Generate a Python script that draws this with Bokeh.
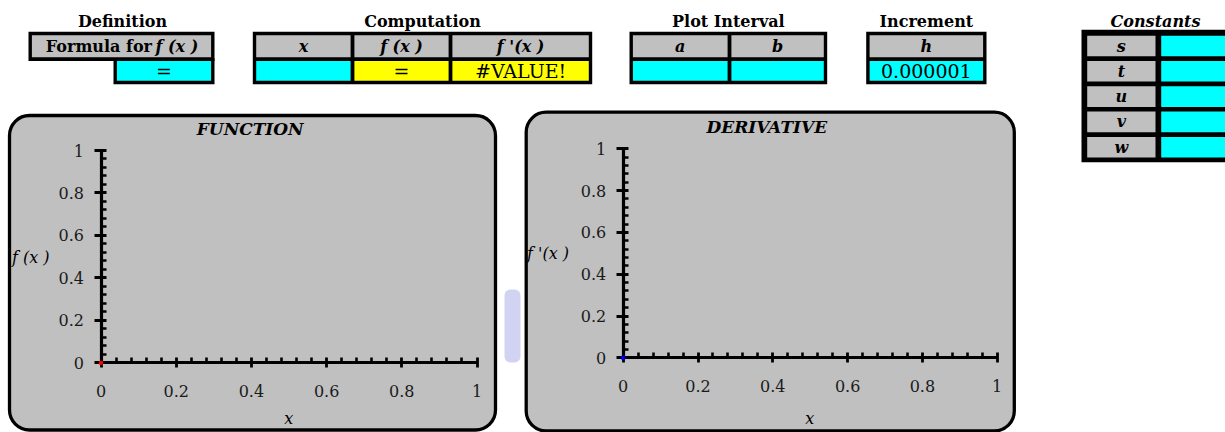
from bokeh.plotting import figure
from bokeh.models import Range1d, LinearAxis, FixedTicker
from bokeh.core.properties import value
from bokeh.embed import file_html
from bokeh.resources import INLINE

# ---------------- data ----------------
x_values = [0.0]
f_values = [0.0]
fprime_values = [0.0]
axis_ticks = [0, 0.2, 0.4, 0.6, 0.8, 1]
axis_tick_labels = ["0", "0.2", "0.4", "0.6", "0.8", "1"]

definition_title = "Definition"
definition_header = ["Formula for", "f (x )"]
definition_values = ["="]
computation_title = "Computation"
computation_headers = ["x", "f (x )", "f '(x )"]
computation_values = ["", "=", "#VALUE!"]
interval_title = "Plot Interval"
interval_headers = ["a", "b"]
interval_values = ["", ""]
increment_title = "Increment"
increment_headers = ["h"]
increment_values = ["0.000001"]
constants_title = "Constants"
constant_names = ["s", "t", "u", "v", "w"]
constant_values = ["", "", "", "", ""]
chart_titles = ["FUNCTION", "DERIVATIVE"]
chart_ylabels = ["f (x )", "f '(x )"]
chart_xlabel = "x"

# ---------------- styles ----------------
GRAY = "#c0c0c0"
CYAN = "#00ffff"
YELLOW = "#ffff00"
BLACK = "#000000"
SERIF = "DejaVu Serif"

W, H = 1225, 432
X0, Y0 = 0, 0

p = figure(width=W, height=H, x_range=Range1d(X0, X0 + W), y_range=Range1d(Y0 + H, Y0),
           output_backend="svg", toolbar_location=None, x_axis_type=None, y_axis_type=None,
           min_border=0)
p.outline_line_color = None
p.background_fill_color = "white"
p.border_fill_color = "white"


def xr(px0, px1):
    s = px1 - px0
    start = -(px0 - X0) / s
    return Range1d(start, start + W / s)


def yr(py0, py1):
    s = py0 - py1
    start = -((Y0 + H) - py0) / s
    return Range1d(start, start + H / s)


p.extra_x_ranges = {"x1": xr(100.5, 476.5), "x2": xr(622.7, 996.7)}
p.extra_y_ranges = {"y1": yr(362.3, 150.0), "y2": yr(357.3, 148.3)}

# faint watermark fragment visible between the two chart panels
p.quad(left=[504.0], right=[520.0], top=[289.0], bottom=[362.0], fill_color="#d2d2f3",
       line_color=None, border_radius=6)

# ---------------- tables ----------------
L, R, T, B, C = [], [], [], [], []


def box(l, r, t, b, c):
    L.append(l); R.append(r); T.append(t); B.append(b); C.append(c)


texts = []  # (x, y, text, style, size, align)

ROW_TOP, ROW_DIV, ROW_BOT = 31.3, 58.7, 83.7
BW, DW = 3.4, 3.8
HDR_Y = (ROW_TOP + BW + ROW_DIV - DW / 2) / 2
VAL_Y = (ROW_DIV + DW / 2 + ROW_BOT - BW) / 2
TITLE_Y = 20.8


def table(edges, headers, vals, val_fills, title):
    box(edges[0], edges[-1], ROW_TOP, ROW_BOT, BLACK)
    n = len(edges) - 1
    for i in range(n):
        l = edges[i] + (BW if i == 0 else DW / 2)
        r = edges[i + 1] - (BW if i == n - 1 else DW / 2)
        box(l, r, ROW_TOP + BW, ROW_DIV - DW / 2, GRAY)
        box(l, r, ROW_DIV + DW / 2, ROW_BOT - BW, val_fills[i])
        texts.append(((l + r) / 2, HDR_Y, headers[i], "bold italic", "16px", "center"))
        if vals[i]:
            texts.append(((l + r) / 2, VAL_Y + 0.5, vals[i], "normal", "19px", "center"))
    texts.append(((edges[0] + edges[-1]) / 2, TITLE_Y, title, "bold", "16px", "center"))


# Definition
box(28, 214, ROW_TOP, ROW_DIV + DW / 2, BLACK)
box(113, 214, ROW_DIV - 1, ROW_BOT, BLACK)
box(28 + BW, 214 - BW, ROW_TOP + BW, ROW_DIV - DW / 2, GRAY)
box(113 + BW, 214 - BW, ROW_DIV + DW / 2, ROW_BOT - BW, CYAN)
texts.append((151.5, HDR_Y, definition_header[0], "bold", "16px", "right"))
texts.append((155.0, HDR_Y, definition_header[1], "bold italic", "16px", "left"))
texts.append(((113 + 214) / 2, VAL_Y + 0.5, definition_values[0], "normal", "19px", "center"))
texts.append((122, TITLE_Y, definition_title, "bold", "16px", "center"))

table([252.3, 352, 450, 591.7], computation_headers, computation_values, [CYAN, YELLOW, YELLOW], computation_title)
table([629, 729, 826.7], interval_headers, interval_values, [CYAN, CYAN], interval_title)
table([865.7, 986], increment_headers, increment_values, [CYAN], increment_title)

# Constants
box(1081, 1240, 29.3, 161.7, BLACK)
for i, nm in enumerate(constant_names):
    t0 = 35.2 + i * 25.3
    box(1086.7, 1155, t0, t0 + 20.6, GRAY)
    box(1160.7, 1240, t0, t0 + 20.6, CYAN)
    texts.append(((1086.7 + 1155) / 2, t0 + 10.3, nm, "bold italic", "16px", "center"))
    if constant_values[i]:
        texts.append((1200, t0 + 10.3, constant_values[i], "normal", "19px", "center"))
texts.append((1155, TITLE_Y, constants_title, "bold italic", "16px", "center"))

# ---------------- chart panels ----------------
p.quad(left=[9.0, 525.7], right=[495.0, 1013.8], top=[115.0, 111.7], bottom=[429.5, 430.5],
       fill_color=GRAY, line_color=BLACK, line_width=3.3, border_radius=20)

p.quad(left=L, right=R, top=T, bottom=B, fill_color=C, line_color=None)

texts.append((249.7, 128.8, chart_titles[0], "bold italic", "17px", "center"))
texts.append((766.3, 126.3, chart_titles[1], "bold italic", "17px", "center"))
texts.append((11.5, 256.5, chart_ylabels[0], "italic", "16px", "left"))
texts.append((526.5, 252.5, chart_ylabels[1], "italic", "16px", "left"))
texts.append((288.3, 418.3, chart_xlabel, "italic", "16px", "center"))
texts.append((809.3, 418.3, chart_xlabel, "italic", "16px", "center"))

for style in ["normal", "bold", "italic", "bold italic"]:
    for size in ["16px", "17px", "19px"]:
        for align in ["left", "center", "right"]:
            sel = [t for t in texts if t[3] == style and t[4] == size and t[5] == align]
            if not sel:
                continue
            p.text(x=[t[0] for t in sel], y=[t[1] for t in sel], text=[t[2] for t in sel],
                   text_font=value(SERIF), text_font_style=style, text_font_size=size,
                   text_align=align, text_baseline="middle", text_color="#000000")

# ---------------- axes ----------------
minor = []
for a, b in zip(axis_ticks[:-1], axis_ticks[1:]):
    minor += [a + (b - a) * k / 5 for k in range(1, 5)]
overrides = {float(t): lab for t, lab in zip(axis_ticks, axis_tick_labels)}


def style(ax, tick_out, standoff):
    ax.axis_line_width = 3.2
    ax.axis_line_color = BLACK
    ax.major_tick_line_width = 2.8
    ax.major_tick_line_color = BLACK
    ax.major_tick_in = 5
    ax.major_tick_out = tick_out
    ax.minor_tick_line_width = 2.6
    ax.minor_tick_line_color = BLACK
    ax.minor_tick_in = 5
    ax.minor_tick_out = 0
    ax.major_label_text_font = SERIF
    ax.major_label_text_font_size = "16px"
    ax.major_label_text_color = "#1a1a1a"
    ax.major_label_standoff = standoff
    ax.major_label_overrides = overrides


for xn, yn in [("x1", "y1"), ("x2", "y2")]:
    xa = LinearAxis(x_range_name=xn, y_range_name=yn, fixed_location=0, bounds=(0, 1),
                    ticker=FixedTicker(ticks=axis_ticks, minor_ticks=minor))
    style(xa, 5, 17)
    p.add_layout(xa, "below")
    ya = LinearAxis(x_range_name=xn, y_range_name=yn, fixed_location=0, bounds=(0, 1),
                    ticker=FixedTicker(ticks=axis_ticks, minor_ticks=minor))
    style(ya, 7, 10)
    p.add_layout(ya, "left")

p.scatter(x_values, f_values, marker="square", size=3, color="red",
          x_range_name="x1", y_range_name="y1", level="overlay")
p.scatter(x_values, fprime_values, marker="square", size=3, color="blue",
          x_range_name="x2", y_range_name="y2", level="overlay")

open("out.html", "w").write(file_html(p, INLINE, title="Derivative"))
